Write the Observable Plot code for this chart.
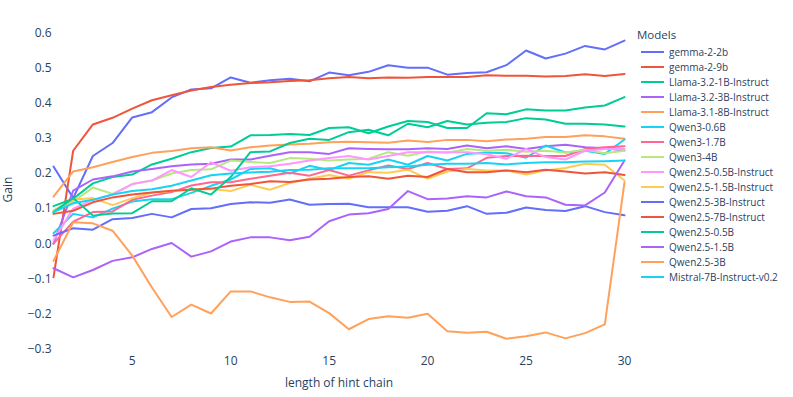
<!DOCTYPE html>
<html>
<head>
<meta charset="utf-8">
<script src="https://cdn.jsdelivr.net/npm/d3@7"></script>
<script src="https://cdn.jsdelivr.net/npm/@observablehq/plot@0.6"></script>
<style>
  html, body { margin: 0; padding: 0; background: #fff; }
  #wrap { position: relative; width: 793px; height: 397px; font-family: "Open Sans", sans-serif; color: #2a3f5f; }
  #legend { position: absolute; left: 637px; top: 26px; font-size: 10px; }
  #legend .title { font-size: 11.5px; height: 18px; line-height: 18px; }
  #legend .item { height: 15px; display: flex; align-items: center; white-space: nowrap; }
  #legend .swatch { width: 23px; height: 2px; margin-left: 4px; margin-right: 5px; }
</style>
</head>
<body>
<div id="wrap"><div id="legend"></div></div>
<script>
const hintLength = [1,2,3,4,5,6,7,8,9,10,11,12,13,14,15,16,17,18,19,20,21,22,23,24,25,26,27,28,29,30];
const xTicks = [5,10,15,20,25,30];
const yTicks = [-0.3,-0.2,-0.1,0,0.1,0.2,0.3,0.4,0.5,0.6];

const models = ["gemma-2-2b","gemma-2-9b","Llama-3.2-1B-Instruct","Llama-3.2-3B-Instruct","Llama-3.1-8B-Instruct","Qwen3-0.6B","Qwen3-1.7B","Qwen3-4B","Qwen2.5-0.5B-Instruct","Qwen2.5-1.5B-Instruct","Qwen2.5-3B-Instruct","Qwen2.5-7B-Instruct","Qwen2.5-0.5B","Qwen2.5-1.5B","Qwen2.5-3B","Mistral-7B-Instruct-v0.2"];
const colors = ["#636efa","#EF553B","#00cc96","#ab63fa","#FFA15A","#19d3f3","#FF6692","#B6E880","#FF97FF","#FECB52","#636efa","#EF553B","#00cc96","#ab63fa","#FFA15A","#19d3f3"];

const gemma2_2b = [0.22,0.13,0.25,0.287,0.36,0.375,0.417,0.44,0.443,0.474,0.459,0.466,0.47,0.463,0.488,0.48,0.49,0.509,0.502,0.502,0.482,0.487,0.489,0.509,0.551,0.528,0.542,0.564,0.554,0.579];
const gemma2_9b = [-0.096,0.265,0.34,0.359,0.385,0.409,0.423,0.437,0.447,0.453,0.458,0.46,0.464,0.466,0.472,0.475,0.472,0.474,0.473,0.475,0.475,0.475,0.48,0.479,0.479,0.477,0.478,0.483,0.478,0.484];
const llama1b = [0.107,0.128,0.172,0.19,0.197,0.226,0.242,0.261,0.273,0.277,0.309,0.31,0.313,0.31,0.33,0.332,0.315,0.334,0.35,0.347,0.33,0.33,0.372,0.369,0.383,0.38,0.38,0.388,0.394,0.418];
const llama3b = [0.0,0.151,0.183,0.192,0.206,0.213,0.221,0.226,0.228,0.24,0.24,0.251,0.261,0.261,0.256,0.272,0.27,0.269,0.269,0.272,0.27,0.28,0.272,0.278,0.27,0.278,0.282,0.275,0.272,0.266];
const llama8b = [0.134,0.206,0.218,0.233,0.247,0.259,0.264,0.272,0.275,0.266,0.275,0.28,0.283,0.285,0.289,0.291,0.289,0.288,0.294,0.29,0.296,0.296,0.292,0.297,0.299,0.304,0.304,0.309,0.306,0.299];
const qwen3_06b = [0.03,0.085,0.075,0.1,0.12,0.127,0.127,0.145,0.165,0.183,0.213,0.215,0.2,0.222,0.21,0.23,0.225,0.24,0.225,0.25,0.237,0.256,0.26,0.258,0.245,0.28,0.26,0.265,0.256,0.297];
const qwen3_17b = [0.0,0.063,0.09,0.092,0.125,0.137,0.147,0.166,0.175,0.175,0.185,0.194,0.202,0.194,0.21,0.194,0.209,0.223,0.213,0.23,0.213,0.215,0.245,0.25,0.251,0.25,0.25,0.27,0.275,0.278];
const qwen3_4b = [0.09,0.12,0.16,0.142,0.17,0.18,0.2,0.21,0.212,0.237,0.233,0.23,0.244,0.242,0.237,0.24,0.242,0.261,0.251,0.263,0.259,0.27,0.265,0.268,0.262,0.265,0.26,0.268,0.258,0.265];
const qwen25_05bi = [0.01,0.1,0.125,0.14,0.17,0.18,0.21,0.19,0.232,0.208,0.218,0.221,0.228,0.237,0.244,0.25,0.24,0.25,0.261,0.261,0.261,0.261,0.255,0.242,0.27,0.247,0.24,0.265,0.27,0.27];
const qwen25_15bi = [0.095,0.125,0.13,0.11,0.13,0.145,0.15,0.155,0.156,0.15,0.168,0.154,0.173,0.185,0.196,0.185,0.204,0.202,0.211,0.185,0.206,0.213,0.209,0.209,0.197,0.209,0.216,0.228,0.225,0.18];
const qwen25_3bi = [0.023,0.044,0.04,0.07,0.073,0.085,0.075,0.099,0.101,0.113,0.118,0.117,0.126,0.111,0.113,0.114,0.104,0.104,0.104,0.091,0.094,0.107,0.085,0.088,0.103,0.096,0.093,0.107,0.09,0.081];
const qwen25_7bi = [0.085,0.094,0.118,0.132,0.14,0.146,0.151,0.154,0.157,0.165,0.17,0.178,0.176,0.183,0.185,0.19,0.192,0.185,0.194,0.19,0.213,0.204,0.204,0.209,0.204,0.211,0.206,0.2,0.204,0.196];
const qwen25_05b = [0.09,0.13,0.08,0.086,0.087,0.121,0.121,0.158,0.14,0.19,0.261,0.263,0.287,0.299,0.296,0.318,0.325,0.309,0.342,0.332,0.35,0.34,0.345,0.347,0.358,0.354,0.342,0.342,0.34,0.334];
const qwen25_15b = [-0.07,-0.096,-0.075,-0.049,-0.039,-0.015,0.002,-0.037,-0.022,0.006,0.018,0.018,0.01,0.02,0.064,0.083,0.087,0.099,0.15,0.127,0.129,0.135,0.132,0.149,0.135,0.132,0.111,0.109,0.146,0.237];
const qwen25_3b = [-0.049,0.061,0.058,0.037,-0.034,-0.125,-0.209,-0.174,-0.199,-0.136,-0.136,-0.153,-0.166,-0.165,-0.198,-0.244,-0.215,-0.207,-0.211,-0.2,-0.25,-0.254,-0.251,-0.271,-0.264,-0.253,-0.27,-0.255,-0.23,0.175];
const mistral7b = [0.09,0.115,0.125,0.14,0.15,0.155,0.165,0.18,0.195,0.2,0.203,0.205,0.21,0.211,0.215,0.215,0.215,0.218,0.22,0.225,0.228,0.228,0.23,0.226,0.23,0.232,0.232,0.234,0.235,0.237];

const seriesValues = [gemma2_2b, gemma2_9b, llama1b, llama3b, llama8b, qwen3_06b, qwen3_17b, qwen3_4b, qwen25_05bi, qwen25_15bi, qwen25_3bi, qwen25_7bi, qwen25_05b, qwen25_15b, qwen25_3b, mistral7b];

const rows = [];
models.forEach((m, i) => {
  seriesValues[i].forEach((v, j) => rows.push({model: m, x: hintLength[j], y: v}));
});

const chart = Plot.plot({
  width: 793,
  height: 397,
  marginLeft: 53,
  marginRight: 169,
  marginTop: 24,
  marginBottom: 43,
  style: {fontFamily: "'Open Sans', sans-serif", fontSize: "12px", color: "#2a3f5f", background: "white"},
  x: {domain: [1, 30]},
  y: {domain: [-0.316, 0.625]},
  color: {domain: models, range: colors},
  marks: [
    Plot.axisX({ticks: xTicks, tickSize: 0, tickPadding: 2, label: "length of hint chain", labelAnchor: "center", labelOffset: 32, labelArrow: "none", fontSize: 12}),
    Plot.axisY({ticks: yTicks, tickSize: 0, tickPadding: 2, label: "Gain", labelAnchor: "center", labelOffset: 50, labelArrow: "none", fontSize: 12}),
    Plot.line(rows, {x: "x", y: "y", z: "model", stroke: "model", strokeWidth: 2})
  ]
});
document.getElementById("wrap").prepend(chart);

const legend = document.getElementById("legend");
const t = document.createElement("div");
t.className = "title";
t.textContent = "Models";
legend.appendChild(t);
models.forEach((m, i) => {
  const it = document.createElement("div");
  it.className = "item";
  const sw = document.createElement("div");
  sw.className = "swatch";
  sw.style.background = colors[i];
  const tx = document.createElement("span");
  tx.textContent = m;
  it.appendChild(sw);
  it.appendChild(tx);
  legend.appendChild(it);
});
</script>
</body>
</html>
